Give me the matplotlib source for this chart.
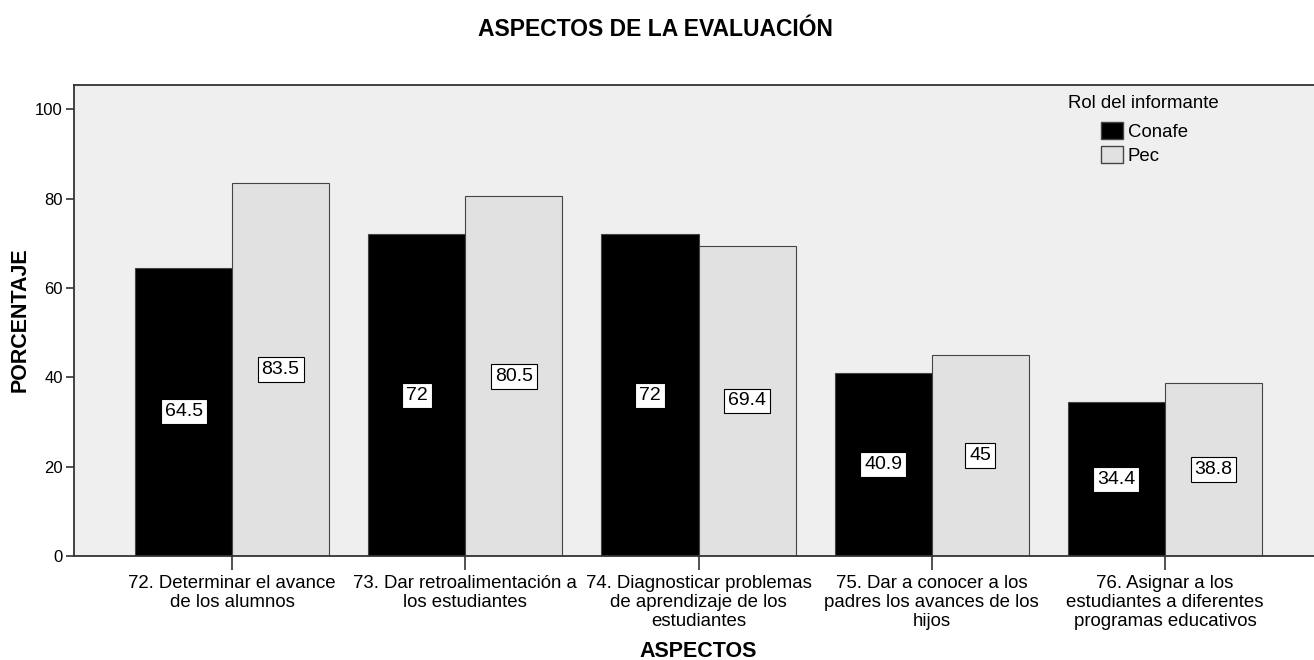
import numpy as np
import matplotlib
matplotlib.use("Agg")
from matplotlib import pyplot as plt
from matplotlib.patches import Patch

plt.rcParams["font.family"] = ["Liberation Sans", "DejaVu Sans"]

aspectos = ["72. Determinar el avance\nde los alumnos",
            "73. Dar retroalimentación a\nlos estudiantes",
            "74. Diagnosticar problemas\nde aprendizaje de los\nestudiantes",
            "75. Dar a conocer a los\npadres los avances de los\nhijos",
            "76. Asignar a los\nestudiantes a diferentes\nprogramas educativos"]
conafe = [64.5, 72, 72, 40.9, 34.4]
pec = [83.5, 80.5, 69.4, 45, 38.8]
conafe_lbl = ["64.5", "72", "72", "40.9", "34.4"]
pec_lbl = ["83.5", "80.5", "69.4", "45", "38.8"]

fig = plt.figure(figsize=(13.14, 6.6), dpi=100)
ax = fig.add_axes([74/1314, 104/660, 1249/1314, 471/660])
ax.set_facecolor("#efefef")

x = np.arange(len(aspectos))
w = 0.416
b1 = ax.bar(x - w/2, conafe, w, color="black", edgecolor="#444444", linewidth=0.8, label="Conafe")
b2 = ax.bar(x + w/2, pec, w, color="#e1e1e1", edgecolor="#444444", linewidth=0.8, label="Pec")

# value labels at mid height of each bar
box = dict(boxstyle="square,pad=0.2", facecolor="white", edgecolor="black", linewidth=0.8)
for bars, lbls in [(b1, conafe_lbl), (b2, pec_lbl)]:
    for r, t in zip(bars, lbls):
        ax.text(r.get_x() + r.get_width()/2, r.get_height()/2, t, ha="center", va="center",
                fontsize=14, bbox=box)

ax.set_xlim(-0.678, 4.678)
ax.set_ylim(0, 105.4)
ax.set_yticks([0, 20, 40, 60, 80, 100])
ax.set_xticks(x)
ax.set_xticklabels(aspectos, fontsize=13.4, linespacing=1.12)
ax.tick_params(axis="y", labelsize=12, length=6, width=1.2, color="#333333", pad=2)
ax.tick_params(axis="x", length=10, width=1.2, color="#333333", pad=4)
for s in ["left", "bottom", "top"]:
    ax.spines[s].set_color("#333333")
    ax.spines[s].set_linewidth(1.3)
ax.spines["right"].set_visible(False)

ax.set_xlabel("ASPECTOS", fontsize=15.5, fontweight="bold")
ax.xaxis.set_label_coords(0.5, (555 - 640) / 471)
fig.text(20/1314, 1 - 320/660, "PORCENTAJE", rotation=90, ha="center", va="center",
         fontsize=15.5, fontweight="bold")
fig.text(655/1314, 1 - 30/660, "ASPECTOS DE LA EVALUACIÓN", ha="center", va="center",
         fontsize=16.5, fontweight="bold")

# legend
fig.text(1068/1314, 1 - 103/660, "Rol del informante", ha="left", va="center", fontsize=13.4)
ax.legend(handles=[Patch(facecolor="black", edgecolor="#444444"),
                   Patch(facecolor="#e1e1e1", edgecolor="#444444")],
          labels=["Conafe", "Pec"], frameon=False, fontsize=13.4,
          loc="upper left", bbox_to_anchor=((1101 - 74)/1249, 1 - (122 - 85)/471),
          handlelength=1.2, handleheight=1.05, handletextpad=0.25,
          labelspacing=0.28, borderpad=0, borderaxespad=0)

fig.savefig("out.png", dpi=100)
